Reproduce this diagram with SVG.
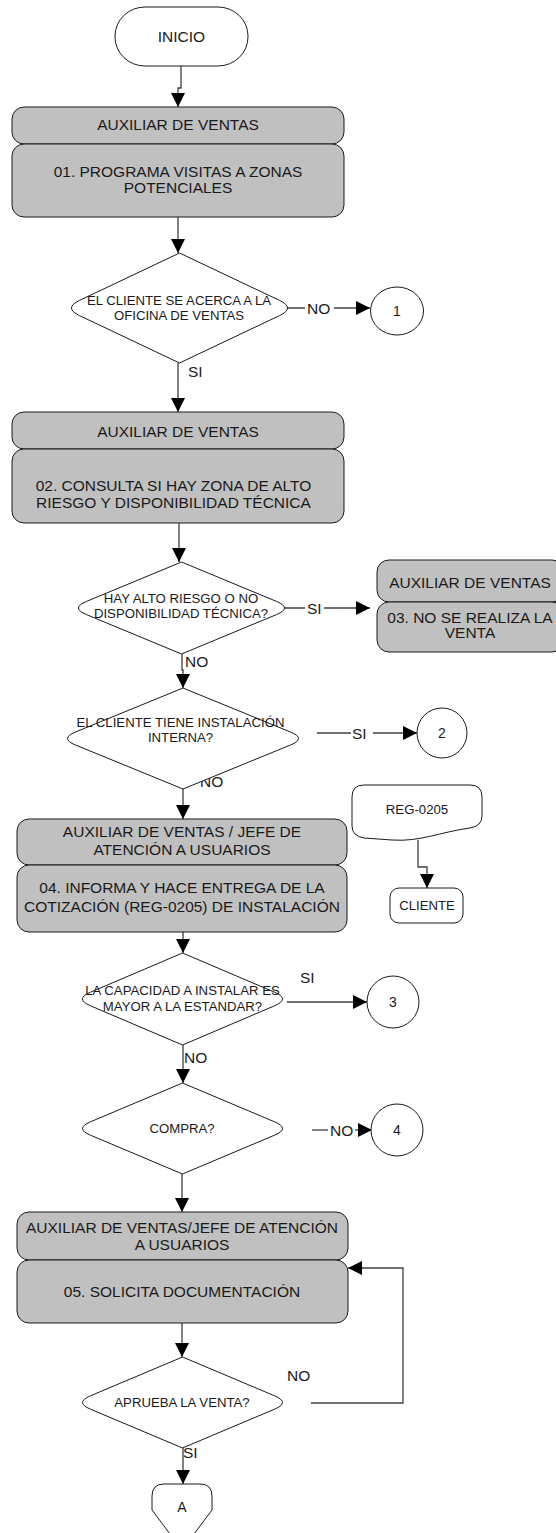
<svg xmlns="http://www.w3.org/2000/svg" width="556" height="1533" viewBox="0 0 556 1533">
<defs>
<style>
.box{fill:#c0c0c0;stroke:#1a1a1a;stroke-width:1}
.wht{fill:#ffffff;stroke:#1a1a1a;stroke-width:1}
.con{fill:none;stroke:#404040;stroke-width:1.3}
.t{font-family:"Liberation Sans",Arial,sans-serif;font-size:15.5px;fill:#1a1a1a;text-anchor:middle}
.d{font-family:"Liberation Sans",Arial,sans-serif;font-size:13.2px;fill:#1a1a1a;text-anchor:middle}
.l{font-family:"Liberation Sans",Arial,sans-serif;font-size:15.5px;fill:#1a1a1a}
</style>
<marker id="arr" viewBox="0 0 14 14" markerWidth="14" markerHeight="14" refX="14" refY="7" orient="auto" markerUnits="userSpaceOnUse">
<path d="M0,0 L14,7 L0,14 Z" fill="#000"/>
</marker>
</defs>
<rect width="556" height="1533" fill="#ffffff"/>

<g id="connectors">
<path class="con" d="M181,66 V88 H178 V107" marker-end="url(#arr)"/>
<path class="con" d="M178,217 V253" marker-end="url(#arr)"/>
<path class="con" d="M272,308 H305"/>
<path class="con" d="M334,308 H370" marker-end="url(#arr)"/>
<path class="con" d="M178,363 V412" marker-end="url(#arr)"/>
<path class="con" d="M179,523 V562" marker-end="url(#arr)"/>
<path class="con" d="M267,608 H305"/>
<path class="con" d="M324,608 H370" marker-end="url(#arr)"/>
<path class="con" d="M182,654 V670 H183 V688" marker-end="url(#arr)"/>
<path class="con" d="M317,733 H351"/>
<path class="con" d="M373,733 H417" marker-end="url(#arr)"/>
<path class="con" d="M183,789 V819" marker-end="url(#arr)"/>
<path class="con" d="M418,840 V867 H427 V888" marker-end="url(#arr)"/>
<path class="con" d="M183,932 V953" marker-end="url(#arr)"/>
<path class="con" d="M287,1002 H367" marker-end="url(#arr)"/>
<path class="con" d="M183,1045 V1083" marker-end="url(#arr)"/>
<path class="con" d="M312,1130 H328"/>
<path class="con" d="M355,1130 H372" marker-end="url(#arr)"/>
<path class="con" d="M182,1174 V1212" marker-end="url(#arr)"/>
<path class="con" d="M182,1323 V1357" marker-end="url(#arr)"/>
<path class="con" d="M311,1403 H403 V1268 H348" marker-end="url(#arr)"/>
<path class="con" d="M183,1448 V1484" marker-end="url(#arr)"/>
<text class="l" x="307" y="314">NO</text>
<text class="l" x="188" y="377">SI</text>
<text class="l" x="307" y="614">SI</text>
<text class="l" x="185" y="667">NO</text>
<text class="l" x="352" y="739">SI</text>
<text class="l" x="200" y="787">NO</text>
<text class="l" x="300" y="983">SI</text>
<text class="l" x="184" y="1063">NO</text>
<text class="l" x="330" y="1136">NO</text>
<text class="l" x="287" y="1381">NO</text>
<text class="l" x="183" y="1458">SI</text>
</g>

<g id="inicio">
<rect class="wht" x="115" y="7" width="133" height="59" rx="30" ry="29"/>
<text class="t" x="181.5" y="42">INICIO</text>
</g>

<g id="paso01">
<rect class="box" x="12" y="107" width="332" height="37" rx="12"/>
<text class="t" x="178" y="130">AUXILIAR DE VENTAS</text>
<rect class="box" x="12" y="144" width="332" height="73" rx="12"/>
<text class="t" x="178" y="177">01. PROGRAMA VISITAS A ZONAS</text>
<text class="t" x="178" y="193">POTENCIALES</text>
</g>

<g id="dec1">
<path class="wht" d="M179.5,253 L279.5,300.4 Q295.5,308 279.5,315.6 L179.5,363 L79.5,315.6 Q63.5,308 79.5,300.4 Z"/>
<text class="d" x="179" y="305">EL CLIENTE SE ACERCA A LA</text>
<text class="d" x="179" y="320">OFICINA DE VENTAS</text>
</g>

<g id="con1">
<ellipse class="wht" cx="397" cy="311" rx="26.5" ry="24"/>
<text class="d" x="397" y="316" style="font-size:14px">1</text>
</g>

<g id="paso02">
<rect class="box" x="12" y="412" width="332" height="37" rx="12"/>
<text class="t" x="178" y="437">AUXILIAR DE VENTAS</text>
<rect class="box" x="12" y="449" width="332" height="74" rx="12"/>
<text class="t" x="173.5" y="491">02. CONSULTA SI HAY ZONA DE ALTO</text>
<text class="t" x="173.5" y="508">RIESGO Y DISPONIBILIDAD TÉCNICA</text>
</g>

<g id="dec2">
<path class="wht" d="M181.5,562 L276.5,601.4 Q292.5,608 276.5,614.6 L181.5,654 L86.5,614.6 Q70.5,608 86.5,601.4 Z"/>
<text class="d" x="181" y="603">HAY ALTO RIESGO O NO</text>
<text class="d" x="181" y="618">DISPONIBILIDAD TÉCNICA?</text>
</g>

<g id="paso03">
<rect class="box" x="377" y="560" width="187" height="42" rx="12"/>
<text class="t" x="470" y="588">AUXILIAR DE VENTAS</text>
<rect class="box" x="377" y="602" width="187" height="50" rx="12"/>
<text class="t" x="470" y="623">03. NO SE REALIZA LA</text>
<text class="t" x="470" y="638">VENTA</text>
</g>

<g id="dec3">
<path class="wht" d="M183,688 L290.5,732 Q306.5,738.5 290.5,745 L183,789 L75.5,745 Q59.5,738.5 75.5,732 Z"/>
<text class="d" x="180.5" y="727">EL CLIENTE TIENE INSTALACIÓN</text>
<text class="d" x="180.5" y="742">INTERNA?</text>
</g>

<g id="con2">
<circle class="wht" cx="442" cy="733" r="25"/>
<text class="d" x="442" y="738" style="font-size:14px">2</text>
</g>

<g id="paso04">
<rect class="box" x="17" y="819" width="330" height="46" rx="12"/>
<text class="t" x="182" y="837">AUXILIAR DE VENTAS / JEFE DE</text>
<text class="t" x="182" y="855">ATENCIÓN A USUARIOS</text>
<rect class="box" x="17" y="865" width="330" height="67" rx="12"/>
<text class="t" x="182" y="893">04. INFORMA Y HACE ENTREGA DE LA</text>
<text class="t" x="182" y="912">COTIZACIÓN (REG-0205) DE INSTALACIÓN</text>
</g>

<g id="reg0205">
<path class="wht" d="M352,797 Q352,785 364,785 L470,785 Q482,785 482,797 L482,816 Q482,826 470,828 C440,832 420,842 392,840 L364,838 Q352,836 352,826 Z"/>
<text class="d" x="417" y="814">REG-0205</text>
</g>

<g id="cliente">
<rect class="wht" x="390" y="888" width="73" height="35" rx="9"/>
<text class="d" x="427" y="910">CLIENTE</text>
</g>

<g id="dec4">
<path class="wht" d="M182.5,953 L274.5,992.2 Q290.5,999 274.5,1005.8 L182.5,1045 L90.5,1005.8 Q74.5,999 90.5,992.2 Z"/>
<text class="d" x="182.5" y="995">LA CAPACIDAD A INSTALAR ES</text>
<text class="d" x="182.5" y="1011">MAYOR A LA ESTANDAR?</text>
</g>

<g id="con3">
<circle class="wht" cx="393" cy="1002" r="26"/>
<text class="d" x="393" y="1007" style="font-size:14px">3</text>
</g>

<g id="dec5">
<path class="wht" d="M182.5,1083 L274.5,1121.8 Q290.5,1128.5 274.5,1135.2 L182.5,1174 L90.5,1135.2 Q74.5,1128.5 90.5,1121.8 Z"/>
<text class="d" x="182" y="1133">COMPRA?</text>
</g>

<g id="con4">
<circle class="wht" cx="397" cy="1130" r="26"/>
<text class="d" x="397" y="1135" style="font-size:14px">4</text>
</g>

<g id="paso05">
<rect class="box" x="17" y="1212" width="331" height="48" rx="12"/>
<text class="t" x="182" y="1233">AUXILIAR DE VENTAS/JEFE DE ATENCIÓN</text>
<text class="t" x="182" y="1250">A USUARIOS</text>
<rect class="box" x="17" y="1260" width="331" height="63" rx="12"/>
<text class="t" x="182" y="1297">05. SOLICITA DOCUMENTACIÓN</text>
</g>

<g id="dec6">
<path class="wht" d="M182.5,1357 L274.5,1395.8 Q290.5,1402.5 274.5,1409.2 L182.5,1448 L90.5,1409.2 Q74.5,1402.5 90.5,1395.8 Z"/>
<text class="d" x="182" y="1407">APRUEBA LA VENTA?</text>
</g>

<g id="conA">
<path class="wht" d="M164,1484 H200 Q212,1484 212,1496 V1510 L182,1550 L152,1510 V1496 Q152,1484 164,1484 Z"/>
<text class="t" x="182" y="1512" style="font-size:14px">A</text>
</g>
</svg>
